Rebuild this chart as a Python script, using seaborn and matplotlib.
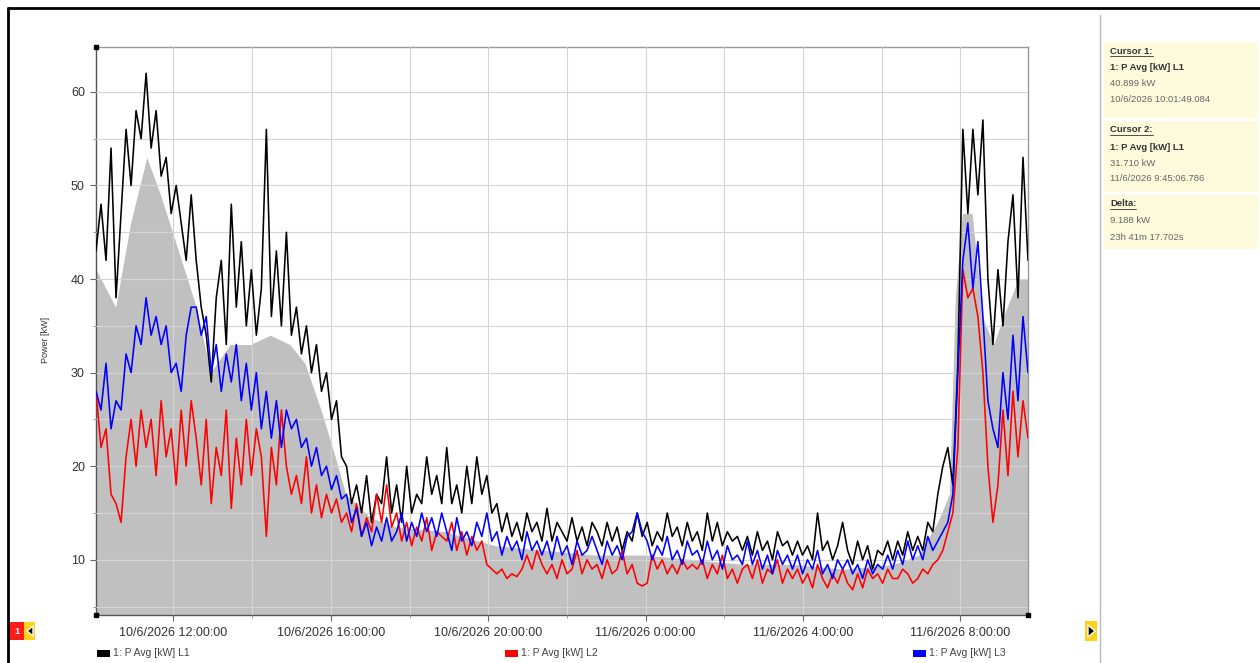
import numpy as np
import pandas as pd
import matplotlib
matplotlib.use("Agg")
import matplotlib.pyplot as plt
import matplotlib.dates as mdates
from matplotlib.ticker import MultipleLocator, FuncFormatter
from matplotlib.patches import Rectangle, Polygon
from matplotlib.lines import Line2D
import seaborn as sns

# ---------------- data ----------------
series_names = ["1: P Avg [kW] L1", "1: P Avg [kW] L2", "1: P Avg [kW] L3"]
series_colors = ["#000000", "#ff0000", "#0000ff"]
start_time = "2026-06-10 10:01:49"
end_time = "2026-06-11 09:43:07"

L1_kw = [
    43, 48, 42, 54, 38, 47, 56, 50, 58, 55,
    62, 54, 58, 51, 53, 47, 50, 46, 42, 49,
    42, 37, 34, 29, 38, 42, 33, 48, 37, 44,
    35, 41, 34, 39, 56, 36, 43, 35, 45, 34,
    37, 32, 35, 30, 33, 28, 30, 25, 27, 21,
    20, 16, 18, 15, 19, 14, 17, 16, 21, 15,
    18, 14, 20, 15, 17, 16, 21, 17, 19, 16,
    22, 16, 18, 15, 20, 16, 21, 17, 19, 15,
    16, 13, 15, 12.5, 14, 12, 15, 13, 14, 12,
    15.5, 12, 14, 13, 12, 14.5, 12, 13.5, 11.5, 14,
    13, 11.5, 14, 12, 13.5, 11, 13, 12, 15, 12.5,
    14, 11.5, 13, 12, 15, 12.5, 13.5, 11.5, 14, 12,
    13, 11, 15, 12, 14, 11.5, 13, 12, 12.5, 11,
    12.5, 10.5, 13, 11, 12, 10, 13, 11.5, 12, 10.5,
    12, 10.5, 11.5, 10, 15, 11, 12, 10, 11.5, 14,
    11, 9.5, 12, 10, 11.5, 9, 11, 10.5, 12, 10,
    12, 10.5, 13, 11, 12.5, 11, 14, 13, 17, 20,
    22, 18, 31, 56, 47, 56, 49, 57, 40, 33,
    41, 35, 44, 49, 38, 53, 42,
]
L2_kw = [
    28, 22, 24, 17, 16, 14, 21, 25, 20, 26,
    22, 25, 19, 27, 21, 24, 18, 26, 20, 27,
    23, 18, 25, 16, 22, 19, 26, 15.5, 23, 18,
    25, 19, 24, 21, 12.5, 22, 18, 26, 20, 17,
    19, 16, 21, 15, 18, 14.5, 17, 15, 16.5, 14,
    15, 13, 16, 12.5, 14.5, 13, 17, 14, 18, 13.5,
    15, 12, 14, 11.5, 13.5, 12, 14.5, 11, 13, 12.5,
    12, 14, 11, 13, 10.5, 12.5, 11, 12, 9.5, 9,
    8.5, 9, 8, 8.5, 8.2, 9, 10.5, 9, 11, 9.5,
    8.5, 9.5, 8, 10, 8.5, 9, 11, 8.5, 10, 9,
    9.5, 8, 10, 8.5, 9, 11, 8.5, 9.5, 7.5, 7.2,
    7.5, 10.5, 9, 10, 8.5, 9.5, 8.5, 10, 9, 9.5,
    9, 10, 8, 9.5, 8.5, 10.5, 8, 9, 7.5, 9,
    9.5, 8, 10, 7.5, 9, 8.5, 10, 7.5, 9, 8,
    9, 7.5, 8.5, 7, 9.5, 8, 7, 8.5, 7.5, 9,
    7.5, 6.8, 8.5, 7, 9, 8, 8.5, 7.5, 9, 8,
    8, 9, 8.5, 7.5, 8, 9, 8.5, 9.5, 10, 11,
    13, 15, 22, 41, 38, 39, 36, 30, 20, 14,
    18, 26, 19, 28, 21, 27, 23,
]
L3_kw = [
    28, 26, 31, 24, 27, 26, 32, 30, 35, 33,
    38, 34, 36, 33, 35, 30, 31, 28, 34, 37,
    37, 34, 36, 30, 33, 28, 32, 29, 33, 27,
    31, 26, 30, 24, 28, 23, 27, 22, 26, 24,
    25, 22, 23, 20, 22, 19, 20, 17.5, 19, 16.5,
    17, 14, 15.5, 12.5, 14, 11.5, 13.5, 12, 14.5, 12,
    13, 15, 12, 14, 12.5, 15, 13, 14.5, 12.5, 15,
    13, 11, 14.5, 12, 13, 11.5, 14, 12.5, 15, 12,
    13, 10.5, 12.5, 11, 12, 10, 13, 11, 12, 10.5,
    12, 10, 12.5, 10.5, 11.5, 9.5, 12, 10.5, 11, 12.5,
    11, 9.5, 12, 10.5, 11.5, 10, 12.5, 13, 15, 13,
    12, 10, 11.5, 10.5, 12.5, 10, 11, 9.5, 12, 10.5,
    11, 9.5, 12, 10, 11, 9, 11.5, 10, 10.5, 9.5,
    12, 9.5, 11, 9, 10.5, 8.5, 11, 9.5, 10.5, 9,
    10.5, 8.5, 10, 9, 11, 8.5, 9.5, 8, 10, 9,
    10, 8.5, 9.5, 8, 10, 8.5, 9.5, 9, 10.5, 9,
    11, 9.5, 12, 10, 11.5, 10, 12.5, 11, 12, 13,
    14, 17, 30, 42, 46, 39, 44, 36, 27, 24,
    22, 30, 25, 34, 27, 36, 30,
]
# grey envelope (hours since 10/6/2026 00:00, kW)
gray_hours = [10.03, 10.53, 10.91, 11.32, 11.67, 12.05, 12.58, 12.94, 13.44, 13.95,
              14.46, 14.96, 15.34, 15.75, 16.11, 16.38, 17.01, 17.65, 18.91, 20.18,
              21.44, 22.71, 23.97, 25.24, 26.51, 27.77, 29.04, 30.30, 30.94, 31.42,
              31.72, 31.87, 32.05, 32.30, 32.56, 32.84, 33.19, 33.47, 33.72]
gray_kw = [41, 37, 46, 53, 49, 44, 37, 30, 33, 33,
           34, 33, 31, 26, 21, 17, 14.5, 13.5, 13, 11.5,
           11, 10.5, 10.5, 10, 9.5, 9.5, 9, 9.5, 10.5, 14,
           17, 38, 47, 47, 36, 33, 37, 40, 40]

cursor_panel = [
    ("Cursor 1:", "1: P Avg [kW] L1", ["40.899 kW", "10/6/2026 10:01:49.084"]),
    ("Cursor 2:", "1: P Avg [kW] L1", ["31.710 kW", "11/6/2026 9:45:06.786"]),
    ("Delta:", None, ["9.188 kW", "23h 41m 17.702s"]),
]
y_limits = (4.1, 64.8)
y_label = "Power [kW]"

# ---------------- style ----------------
sns.set_theme(style="white")
plt.rcParams["font.family"] = ["Liberation Sans", "DejaVu Sans"]

W, H = 1260, 663
fig = plt.figure(figsize=(W / 100, H / 100), dpi=100)
fig.patch.set_facecolor("white")


def fx(px):
    return px / W


def fy(py):
    return 1 - py / H


ax = fig.add_axes([fx(96), fy(615), fx(1028) - fx(96), fy(47) - fy(615)])
ax.set_facecolor("white")

times = pd.date_range(start_time, end_time, periods=len(L1_kw))
n = len(L1_kw)
df = pd.DataFrame({
    "time": np.concatenate([times, times, times]),
    "kw": np.array(L1_kw + L2_kw + L3_kw, dtype=float),
    "phase": np.repeat(series_names, n),
})

gray_t = pd.Timestamp("2026-06-10") + pd.to_timedelta(gray_hours, unit="h")
ax.fill_between(gray_t, 0, gray_kw, color="#c0c0c0", lw=0, zorder=1)

sns.lineplot(data=df, x="time", y="kw", hue="phase", hue_order=series_names,
             palette=dict(zip(series_names, series_colors)), estimator=None,
             linewidth=1.15, legend=False, ax=ax, zorder=3)

ax.set_xlim(pd.Timestamp(start_time), pd.Timestamp(end_time))
ax.set_ylim(*y_limits)

ax.xaxis.set_major_locator(mdates.HourLocator(byhour=[0, 4, 8, 12, 16, 20]))
ax.xaxis.set_minor_locator(mdates.HourLocator(byhour=list(range(0, 24, 2))))


def fmt_time(x, pos=None):
    d = mdates.num2date(x)
    return f"{d.day}/{d.month}/{d.year} {d.hour}:{d.minute:02d}:{d.second:02d}"


ax.xaxis.set_major_formatter(FuncFormatter(fmt_time))
ax.yaxis.set_major_locator(MultipleLocator(10))
ax.yaxis.set_minor_locator(MultipleLocator(5))
ax.yaxis.set_major_formatter(FuncFormatter(lambda v, p: f"{v:.0f}"))

ax.set_axisbelow(False)
ax.grid(True, which="both", color="#d4d4d4", lw=0.8)
ax.tick_params(axis="both", which="major", direction="out", length=4, width=0.8,
               color="#666666", labelsize=9, labelcolor="#333333", pad=5)
ax.tick_params(axis="both", which="minor", direction="out", length=2, width=0.6,
               color="#888888")
ax.tick_params(axis="y", which="major", pad=4)
ax.tick_params(left=True, bottom=True, which="both")
ax.set_xlabel("")
ax.set_ylabel(y_label, fontsize=6.5, color="#333333")
ax.yaxis.set_label_coords(-(96 - 50) / 932, 0.484)
for side, sp in ax.spines.items():
    sp.set_visible(True)
    sp.set_color("#555555" if side in ("left", "bottom") else "#999999")
    sp.set_linewidth(1.0)

# cursor markers at plot corners
for t, yy in [(pd.Timestamp(start_time), 1.0), (pd.Timestamp(start_time), 0.0),
              (pd.Timestamp(end_time), 0.0)]:
    ax.plot([t], [yy], marker="s", ms=3.5, color="black",
            transform=ax.get_xaxis_transform(), clip_on=False, zorder=6)

# ---------------- frame / panel ----------------
fig.add_artist(Line2D([fx(8), fx(8)], [fy(8), 0], color="black", lw=2))
fig.add_artist(Line2D([fx(8), 1], [fy(8), fy(8)], color="black", lw=2))
fig.add_artist(Line2D([fx(1100), fx(1100)], [fy(15), 0], color="#bbbbbb", lw=1))

box_rows = [(42, 118), (121, 192), (195, 249)]
renderer = fig.canvas.get_renderer()
for (top, bot), (title, sub, vals) in zip(box_rows, cursor_panel):
    fig.add_artist(Rectangle((fx(1104), fy(bot)), fx(1258) - fx(1104), fy(top) - fy(bot),
                             transform=fig.transFigure, facecolor="#fdfbdc",
                             edgecolor="none"))
    yline = top + 9
    t = fig.text(fx(1110), fy(yline), title, fontsize=6.8, fontweight="bold",
                 color="#333333", va="center", ha="left")
    bb = t.get_window_extent(renderer=renderer)
    fig.add_artist(Line2D([bb.x0 / W, bb.x1 / W], [fy(yline + 5)] * 2,
                          color="#333333", lw=0.6))
    yline += 17
    if sub:
        fig.text(fx(1110), fy(yline), sub, fontsize=6.8, fontweight="bold",
                 color="#333333", va="center", ha="left")
        yline += 16
    for v in vals:
        fig.text(fx(1110), fy(yline), v, fontsize=6.8, color="#666666",
                 va="center", ha="left")
        yline += 16

# ---------------- legend ----------------
for name, col, x0 in zip(series_names, series_colors, [97, 505, 913]):
    fig.add_artist(Rectangle((fx(x0), fy(657)), fx(13), 7 / H, transform=fig.transFigure,
                             facecolor=col, edgecolor="none"))
    fig.text(fx(x0 + 16), fy(653.5), name, fontsize=7.5, color="#444444",
             va="center", ha="left")

# ---------------- navigation markers ----------------
fig.add_artist(Rectangle((fx(9), fy(640)), fx(15), 18 / H, transform=fig.transFigure,
                         facecolor="#ff1a1a", edgecolor="none"))
fig.text(fx(16.5), fy(631), "1", fontsize=6.5, color="white", fontweight="bold",
         ha="center", va="center")
fig.add_artist(Rectangle((fx(24), fy(640)), fx(11), 18 / H, transform=fig.transFigure,
                         facecolor="#ffd21a", edgecolor="none"))
fig.add_artist(Polygon([(fx(27), fy(631)), (fx(33), fy(626)), (fx(33), fy(636))],
                       closed=True, transform=fig.transFigure, facecolor="black"))
fig.add_artist(Rectangle((fx(1085), fy(641)), fx(12), 20 / H, transform=fig.transFigure,
                         facecolor="#ffd21a", edgecolor="none"))
fig.add_artist(Polygon([(fx(1095), fy(631)), (fx(1088), fy(625)), (fx(1088), fy(637))],
                       closed=True, transform=fig.transFigure, facecolor="black"))

fig.savefig("out.png", dpi=100, facecolor="white")
